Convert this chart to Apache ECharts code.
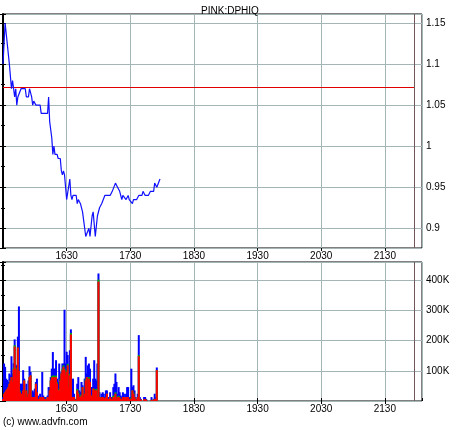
<!DOCTYPE html>
<html><head><meta charset="utf-8">
<script src="https://cdn.jsdelivr.net/npm/echarts@6/dist/echarts.min.js"></script>
<style>html,body{margin:0;padding:0;background:#fff}#c{width:460px;height:430px}</style>
</head><body><div id="c"></div>
<script>
const chartTitle = 'PINK:DPHIQ';
const copyright = '(c) www.advfn.com';
// x values: minutes after 15:30
const xTickLabels = ['1630', '1730', '1830', '1930', '2030', '2130'];
const priceMinutes = [0,2,3,6,8,9,10,11,12,13,14,15,17,21,22,24,25,27,28,29,30,31,35,36,42,43,44,46,47,48,49,51,52,54,55,56,57,58,59,60,61,63,64,65,66,69,70,71,73,74,75,76,77,78,79,81,82,84,85,87,88,89,91,93,96,101,103,106,108,110,112,113,116,118,119,122,123,126,128,131,132,134,137,139,142,143,145,146,148];
const priceValues = [1.10,1.15,1.15,1.10,1.07,1.08,1.08,1.06,1.07,1.05,1.06,1.06,1.07,1.07,1.06,1.06,1.07,1.06,1.05,1.055,1.055,1.05,1.05,1.04,1.04,1.06,1.03,1.01,0.99,1.00,0.99,0.99,0.985,0.985,0.97,0.965,0.97,0.965,0.95,0.935,0.935,0.96,0.94,0.935,0.94,0.94,0.93,0.935,0.93,0.93,0.92,0.91,0.90,0.89,0.89,0.90,0.89,0.915,0.92,0.89,0.89,0.915,0.925,0.93,0.94,0.94,0.945,0.955,0.95,0.945,0.935,0.94,0.935,0.94,0.935,0.93,0.935,0.935,0.94,0.94,0.945,0.94,0.94,0.945,0.945,0.955,0.95,0.95,0.96];
const prevClose = 1.0715;
const closeMarkMinute = 388;
// volume in thousands, one entry per minute starting at minute 0
const volTotal = [13,124,113,74,70,63,91,85,148,91,125,204,120,118,213,313,57,57,57,102,74,24,57,24,68,115,96,29,35,29,41,63,74,18,13,24,13,96,18,13,13,7,18,46,46,79,107,162,107,107,135,74,63,124,79,96,124,124,302,124,163,152,91,168,237,24,74,24,7,7,57,79,35,29,63,52,24,74,146,91,118,124,107,46,46,74,135,74,68,124,422,29,13,24,29,24,13,35,35,13,13,29,13,13,46,57,91,63,24,46,29,18,13,29,24,13,24,46,46,13,13,107,46,52,35,13,7,24,218,13,7,0,0,13,13,7,0,0,0,0,13,0,7,24,13,111];
const volRed = [7,24,29,35,40,46,57,68,79,63,105,180,105,85,177,100,29,13,24,35,68,13,35,13,24,79,85,13,13,13,13,57,29,7,7,13,7,13,13,7,7,4,13,13,35,68,77,79,79,63,79,57,35,35,68,91,102,113,102,85,96,118,46,85,220,13,13,13,4,4,35,24,13,13,18,46,13,24,68,79,18,74,63,18,13,41,35,35,35,13,395,13,7,13,13,10,7,13,24,7,4,13,7,4,13,13,24,7,13,13,11,7,5,13,13,6,13,13,13,6,6,7,35,24,13,6,4,13,148,6,4,0,0,6,6,4,0,0,0,0,4,0,4,7,6,102];
const volGreen = [0,0,0,0,0,0,0,0,0,0,5,5,5,0,0,0,5,4,0,0,0,0,0,0,0,0,0,0,0,0,0,0,0,0,0,0,0,0,0,0,0,0,0,0,0,0,5,5,5,5,5,5,0,5,5,0,5,5,5,5,5,5,0,5,5,0,0,0,0,0,5,5,0,4,4,0,0,0,5,0,5,5,0,0,0,0,5,0,5,5,7,0,0,0,0,0,0,0,0,0,0,0,0,0,4,5,5,5,0,4,0,0,0,0,0,0,0,0,0,0,0,4,0,4,0,0,0,0,4,0,0,0,0,0,0,0,0,0,0,0,0,0,0,0,0,0];

const FONT = 'Liberation Sans';
const gridColor = '#a3b5b5';
const chart = echarts.init(document.getElementById('c'), null, {renderer: 'canvas'});
const priceData = priceMinutes.map((m, i) => [m, priceValues[i]]);
// drawn as overlapping layers: total (blue), red+green (green), red (red)
const blueData = volTotal.map((v, m) => [m, v]);
const greenData = volRed.map((v, m) => [m, v + volGreen[m]]);
const redData = volRed.map((v, m) => [m, v]);
const xLabel = v => { const i = Math.round(v / 60) - 1; return xTickLabels[i] || ''; };
const txt = {fontFamily: FONT, fontSize: 10, color: '#000'};

function xAx(grid, pos, labels, split) {
  return {
    type: 'value', gridIndex: grid, position: pos, min: 0, max: 395, interval: 60,
    axisLine: {show: false},
    axisTick: {show: true, length: 3, lineStyle: {color: '#000'}},
    axisLabel: Object.assign({show: labels, margin: 3, formatter: xLabel, showMinLabel: false, showMaxLabel: false}, txt),
    splitLine: {show: split, lineStyle: {color: gridColor, width: 1}}
  };
}
function yAx(grid, pos, min, max, opts, labels, split) {
  return Object.assign({
    type: 'value', gridIndex: grid, position: pos, min: min, max: max, scale: true,
    axisLine: {show: pos === 'left', lineStyle: {color: '#000', width: 2}},
    axisTick: {show: true, length: 3, lineStyle: {color: '#000'}},
    minorTick: {show: true, splitNumber: 2, length: 2, lineStyle: {color: '#000'}},
    axisLabel: Object.assign({show: labels, margin: 4, showMinLabel: false, showMaxLabel: false}, txt),
    splitLine: {show: split, lineStyle: {color: gridColor, width: 1}}
  }, opts);
}
const barCommon = {type: 'bar', xAxisIndex: 1, yAxisIndex: 2, barWidth: 2, barGap: '-100%', large: false};

const option = {
  animation: false,
  backgroundColor: '#fff',
  title: {text: chartTitle, left: 'center', top: 1, textStyle: {fontFamily: FONT, fontSize: 10, fontWeight: 'normal', color: '#000'}},
  grid: [
    {left: 3, right: 38, top: 14, height: 234, show: true, borderColor: '#000', borderWidth: 1, backgroundColor: '#fff'},
    {left: 3, right: 38, top: 262, height: 139, show: true, borderColor: '#000', borderWidth: 1, backgroundColor: '#fff'}
  ],
  xAxis: [
    xAx(0, 'bottom', true, true),
    xAx(1, 'bottom', true, true),
    xAx(1, 'top', false, false)
  ],
  yAxis: [
    yAx(0, 'right', 0.876, 1.161, {splitNumber: 5}, true, true),
    yAx(0, 'left', 0.876, 1.161, {splitNumber: 5}, false, false),
    yAx(1, 'right', 0, 460, {interval: 100, axisLabel: Object.assign({margin: 4, showMinLabel: false, showMaxLabel: false, formatter: v => v + 'K'}, txt)}, true, true),
    yAx(1, 'left', 0, 460, {interval: 100}, false, false)
  ],
  series: [
    {type: 'line', xAxisIndex: 0, yAxisIndex: 0, data: priceData, showSymbol: false, symbol: 'none',
     lineStyle: {color: '#1010ff', width: 1.2}, z: 5,
     markLine: {silent: true, symbol: 'none', label: {show: false},
       lineStyle: {color: '#e00000', width: 1, type: 'solid'},
       data: [[{coord: [0, prevClose]}, {coord: [closeMarkMinute, prevClose]}]]}},
    {type: 'line', xAxisIndex: 0, yAxisIndex: 0, data: [], silent: true,
     markLine: {silent: true, symbol: 'none', label: {show: false},
       lineStyle: {color: '#705858', width: 1, type: 'solid'},
       data: [{xAxis: closeMarkMinute}]}},
    Object.assign({}, barCommon, {data: blueData, itemStyle: {color: '#0000ff'}, z: 2,
     markLine: {silent: true, symbol: 'none', label: {show: false},
       lineStyle: {color: '#705858', width: 1, type: 'solid'},
       data: [{xAxis: closeMarkMinute}]}}),
    Object.assign({}, barCommon, {data: greenData, itemStyle: {color: '#00b000'}, z: 3}),
    Object.assign({}, barCommon, {data: redData, itemStyle: {color: '#ff0000'}, z: 4})
  ],
  graphic: [
    {type: 'text', left: 3, top: 417, style: {text: copyright, fontFamily: FONT, fontSize: 10, fill: '#000'}}
  ]
};
chart.setOption(option);
</script>
</body></html>
